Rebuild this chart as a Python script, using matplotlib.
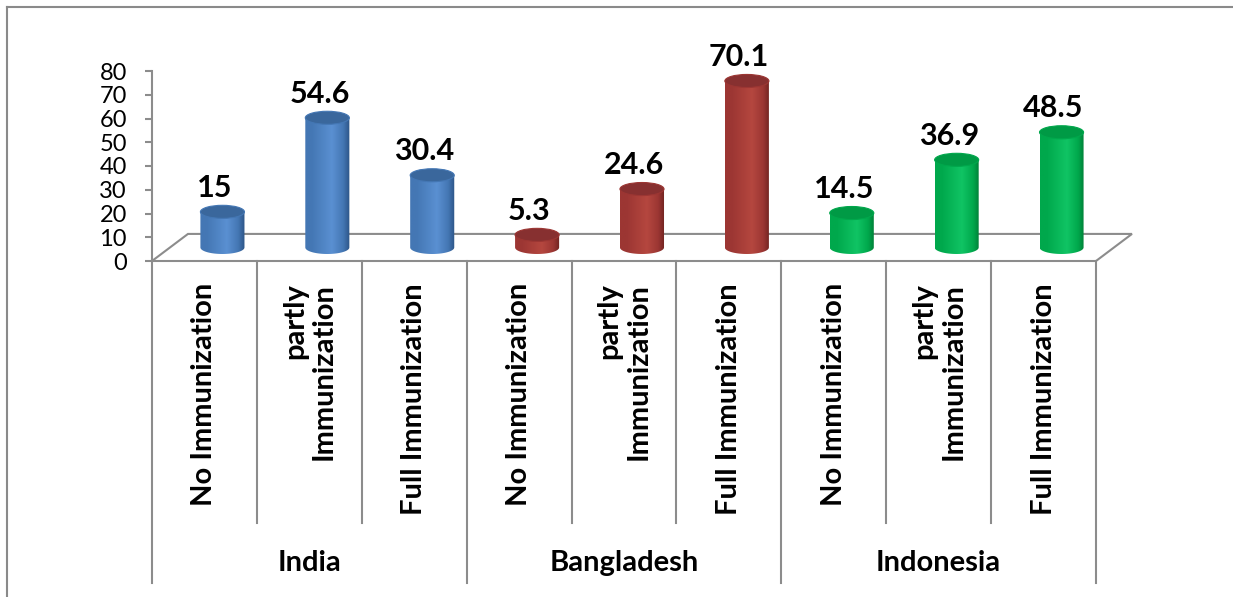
import numpy as np
import matplotlib
matplotlib.use("Agg")
import matplotlib.pyplot as plt
from matplotlib.path import Path
from matplotlib.patches import Ellipse, PathPatch, Polygon
from matplotlib.colors import LinearSegmentedColormap
from matplotlib.transforms import blended_transform_factory

plt.rcParams['font.family'] = ['Lato', 'DejaVu Sans']

# Data
countries = ['India', 'Bangladesh', 'Indonesia']
status = ['No Immunization', 'partly\nImmunization', 'Full Immunization']
values = [15, 54.6, 30.4, 5.3, 24.6, 70.1, 14.5, 36.9, 48.5]
yticks = [0, 10, 20, 30, 40, 50, 60, 70, 80]

# shading per country: (dark edge, body, highlight, top face)
palettes = [
    ('#2c5486', '#4477b4', '#5a90d2', '#3a679c'),
    ('#6e2220', '#9c3633', '#b5473f', '#873030'),
    ('#007a35', '#00a84c', '#10c464', '#009a45'),
]

W, H = 1233, 597
fig = plt.figure(figsize=(W / 100, H / 100), dpi=100)
ax = fig.add_axes([152 / W, (H - 261) / H, (1096 - 152) / W, (261 - 71) / H])
n = len(values)
ax.set_xlim(0, n)
ax.set_ylim(0, 80)

# 3D floor depth (data units)
DX, DY = 0.343, 11.4
bw, eh = 0.42, 5.5
grid_c = '#8c8c8c'

for s in ['top', 'right', 'bottom']:
    ax.spines[s].set_visible(False)
ax.spines['left'].set_color(grid_c)
ax.spines['left'].set_linewidth(1.5)
ax.set_xticks([])
ax.set_yticks(yticks)
ax.tick_params(axis='y', direction='out', length=5, width=1.5, color=grid_c,
               pad=13, labelsize=17)

# floor
floor = Polygon([(0, 0), (n, 0), (n + DX, DY), (DX, DY)], closed=True,
                fill=False, edgecolor=grid_c, lw=1.5, clip_on=False, zorder=1)
ax.add_patch(floor)

theta = np.linspace(np.pi, 2 * np.pi, 40)
for i, v in enumerate(values):
    dark, body, hi, topc = palettes[i // 3]
    cmap = LinearSegmentedColormap.from_list(
        'cyl', [(0, body), (0.15, body), (0.6, hi), (0.85, body), (1, dark)])
    cx = i + 0.5 + DX / 2
    base = DY / 2
    top = base + v
    x0, x1 = cx - bw / 2, cx + bw / 2
    verts = [(x1, top), (x0, top)]
    verts += list(zip(cx + bw / 2 * np.cos(theta), base + eh / 2 * np.sin(theta)))
    verts += [(x1, top)]
    clip = PathPatch(Path(verts, closed=True), transform=ax.transData,
                     facecolor='none', edgecolor='none')
    ax.add_patch(clip)
    im = ax.imshow(np.linspace(0, 1, 256)[None, :], cmap=cmap, aspect='auto',
                   extent=[x0, x1, base - eh / 2, top], zorder=3,
                   interpolation='bilinear', clip_on=True)
    im.set_clip_path(clip)
    ax.add_patch(Ellipse((cx, top), bw, eh, facecolor=topc, edgecolor=body,
                         lw=0.8, zorder=4, clip_on=False))
    ax.text(cx - 0.076, top + 6.3, f'{v:g}', ha='center', va='baseline',
            fontsize=22, fontweight='bold', zorder=5, clip_on=False)

ax.set_xlim(0, n)
ax.set_ylim(0, 80)

# category table below the floor
tr = blended_transform_factory(ax.transData, fig.transFigure)
fy = lambda py: (H - py) / H
for k in range(n + 1):
    bottom = 583 if k % 3 == 0 else 523
    ax.plot([k, k], [fy(261), fy(bottom)], color=grid_c, lw=1.5,
            transform=tr, clip_on=False)
for i in range(n):
    ax.text(i + 0.5, fy(283), status[i % 3], rotation=90, ha='center', va='top',
            multialignment='right', fontsize=21, fontweight='bold',
            linespacing=1.15, transform=tr)
for g, c in enumerate(countries):
    ax.text(3 * g + 1.5, fy(563), c, ha='center', va='center', fontsize=21,
            fontweight='bold', transform=tr)

# outer frame
fig.add_artist(plt.Line2D([7 / W, 7 / W], [0, fy(7)], color='#8a8a8a', lw=1.5))
fig.add_artist(plt.Line2D([7 / W, 1], [fy(7), fy(7)], color='#8a8a8a', lw=1.5))

fig.savefig('out.png', dpi=100)
